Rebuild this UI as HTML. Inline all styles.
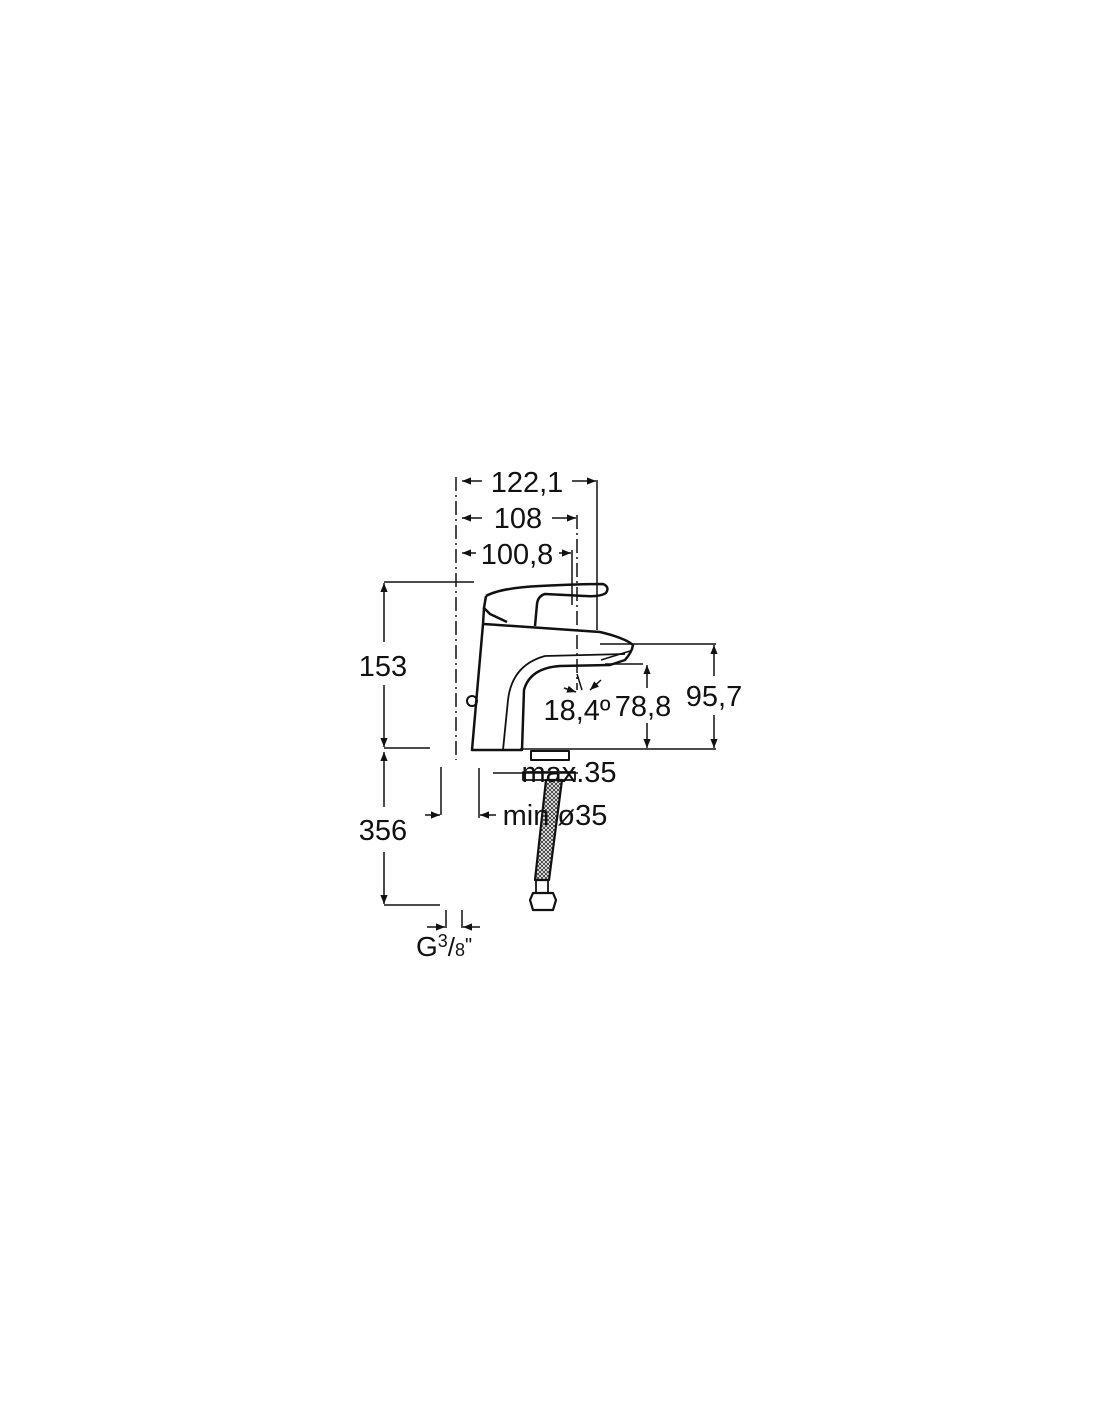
<!DOCTYPE html>
<html><head><meta charset="utf-8"><style>
html,body{margin:0;padding:0;background:#fff}
svg{display:block}
text{font-family:"Liberation Sans",sans-serif;fill:#111}
</style></head><body>
<svg width="1100" height="1422" viewBox="0 0 1100 1422" xmlns="http://www.w3.org/2000/svg">
<defs>
<marker id="a" viewBox="0 0 10 10" refX="10" refY="5" markerWidth="9" markerHeight="9" orient="auto-start-reverse" markerUnits="userSpaceOnUse"><path d="M0,1 L10,5 L0,9 Z" fill="#111"/></marker>
<pattern id="h" width="4" height="4" patternUnits="userSpaceOnUse"><rect width="4" height="4" fill="#fff"/><path d="M0,0 L4,4 M4,0 L0,4" stroke="#333" stroke-width="0.9"/></pattern>
</defs>
<g stroke="#111" stroke-width="1.5" fill="none">
<line x1="456" y1="477" x2="456" y2="760" stroke-dasharray="14,4,2,4"/>
<line x1="597" y1="480" x2="597" y2="630"/>
<line x1="577" y1="515" x2="577" y2="690" stroke-dasharray="14,4,2,4"/>
<line x1="572" y1="550" x2="572" y2="605"/>
<line x1="482" y1="481" x2="462" y2="481" marker-end="url(#a)"/>
<line x1="572" y1="481" x2="596" y2="481" marker-end="url(#a)"/>
<line x1="482" y1="518" x2="462" y2="518" marker-end="url(#a)"/>
<line x1="552" y1="518" x2="576" y2="518" marker-end="url(#a)"/>
<line x1="476" y1="553" x2="462" y2="553" marker-end="url(#a)"/>
<line x1="559" y1="553" x2="571" y2="553" marker-end="url(#a)"/>
<line x1="384" y1="582" x2="474" y2="582"/>
<line x1="384" y1="748" x2="430" y2="748"/>
<line x1="384" y1="642" x2="384" y2="583" marker-end="url(#a)"/>
<line x1="384" y1="685" x2="384" y2="747" marker-end="url(#a)"/>
<line x1="384" y1="807" x2="384" y2="752" marker-end="url(#a)"/>
<line x1="384" y1="852" x2="384" y2="904" marker-end="url(#a)"/>
<line x1="384" y1="905" x2="440" y2="905"/>
<line x1="600" y1="644" x2="716" y2="644"/>
<line x1="605" y1="664" x2="643" y2="664"/>
<line x1="520" y1="749" x2="716" y2="749"/>
<line x1="714" y1="676" x2="714" y2="645" marker-end="url(#a)"/>
<line x1="714" y1="715" x2="714" y2="748" marker-end="url(#a)"/>
<line x1="647" y1="688" x2="647" y2="665" marker-end="url(#a)"/>
<line x1="647" y1="723" x2="647" y2="748" marker-end="url(#a)"/>
<line x1="577" y1="674" x2="582" y2="690"/>
<line x1="564" y1="688" x2="576" y2="692" marker-end="url(#a)"/>
<line x1="601" y1="680" x2="590" y2="690" marker-end="url(#a)"/>
<line x1="441" y1="767" x2="441" y2="815"/>
<line x1="425" y1="815" x2="440" y2="815" marker-end="url(#a)"/>
<line x1="479" y1="768" x2="479" y2="818"/>
<line x1="496" y1="815" x2="480" y2="815" marker-end="url(#a)"/>
<line x1="493" y1="773" x2="578" y2="773"/>
<line x1="446" y1="910" x2="446" y2="928"/>
<line x1="462" y1="910" x2="462" y2="928"/>
<line x1="427" y1="927" x2="445" y2="927" marker-end="url(#a)"/>
<line x1="480" y1="927" x2="463" y2="927" marker-end="url(#a)"/>
</g>
<g stroke="#111" stroke-width="2.5" fill="none" stroke-linejoin="round">
<path d="M486,596 Q500,588 540,586 Q580,584 603,584 Q610,587 606,593 Q600,597 585,596 L545,594 Q538,596 537,604 L535,626"/>
<path d="M486,596 L484,608 L490,614 L507,622"/>
<path d="M484,608 L483,624 L472,750 L522,750 L524,690 Q530,668 560,666 L610,665 L625,660 Q632,652 633,645 Q625,638 600,632 L484,624"/>
<path d="M625,654 L545,656 Q512,665 508,700 L503,750" stroke-width="1.8"/>
<path d="M601,660 L630,651" stroke-width="1.5"/>
<circle cx="472" cy="701" r="5" stroke-width="2"/>
<rect x="531" y="751" width="38" height="9" stroke-width="2"/>
<rect x="523" y="772" width="52" height="8" stroke-width="1.8"/>
<path d="M546,780 L562,780 L549,880 L535,880 Z" stroke-width="2.2" fill="url(#h)"/>
<rect x="536" y="880" width="12" height="13" stroke-width="1.8"/>
<path d="M533,893 L553,893 L556,900 L553,910 L533,910 L530,900 Z" stroke-width="2.2"/>
</g>
<g font-size="29" text-anchor="middle">
<text x="527" y="492">122,1</text>
<text x="518" y="528">108</text>
<text x="517" y="564">100,8</text>
<text x="383" y="676">153</text>
<text x="383" y="840">356</text>
<text x="714" y="706">95,7</text>
<text x="643" y="716">78,8</text>
<text x="577" y="720">18,4º</text>
<text x="569" y="782">max.35</text>
<text x="555" y="825">min ø35</text>
</g>
<text x="416" y="956" font-size="28">G<tspan font-size="18" dy="-9">3</tspan><tspan font-size="26" dy="9">/</tspan><tspan font-size="18">8</tspan><tspan font-size="20" dy="-4">"</tspan></text>
</svg>
</body></html>
